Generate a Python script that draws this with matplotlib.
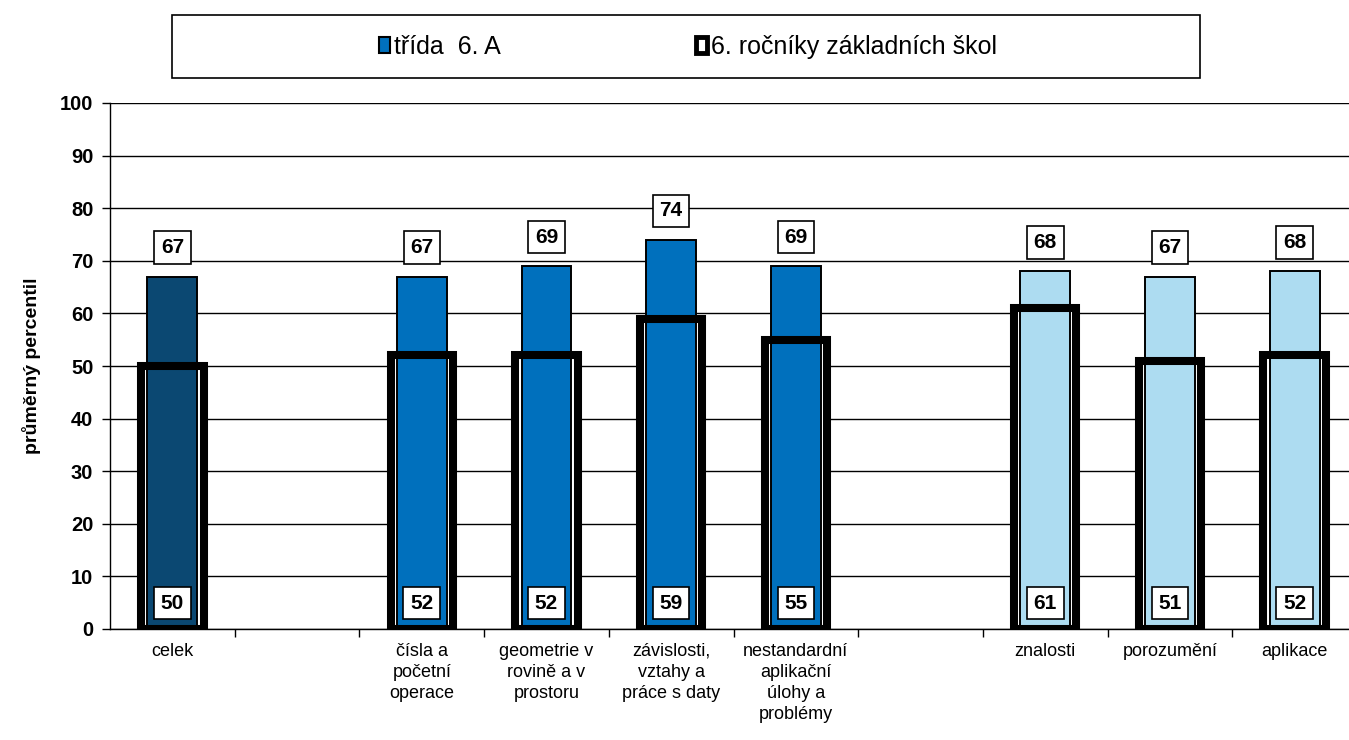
import numpy as np
import matplotlib
matplotlib.use("Agg")
import matplotlib.pyplot as plt
from matplotlib.patches import Patch, Rectangle

plt.rcParams['font.family'] = ['Liberation Sans', 'DejaVu Sans']

# Data
categories = ["celek", "", "čísla a\npočetní\noperace", "geometrie v\nrovině a v\nprostoru",
              "závislosti,\nvztahy a\npráce s daty", "nestandardní\naplikační\núlohy a\nproblémy",
              "", "znalosti", "porozumění", "aplikace"]
class_vals = [67, np.nan, 67, 69, 74, 69, np.nan, 68, 67, 68]
school_vals = [50, np.nan, 52, 52, 59, 55, np.nan, 61, 51, 52]
bar_colors = ["#0B4872", "white", "#0070BD", "#0070BD", "#0070BD", "#0070BD",
              "white", "#ADDCF1", "#ADDCF1", "#ADDCF1"]
series_names = ["třída  6. A", "6. ročníky základních škol"]

fig = plt.figure(figsize=(13.49, 7.40), dpi=100)
ax = fig.add_axes([110 / 1349, 1 - 629 / 740, 1247 / 1349, 526 / 740])

x = np.arange(len(categories))

# school outline: white fill behind, thick edge in front
ax.bar(x, school_vals, width=0.5, color="white", edgecolor="none", zorder=2)
ax.bar(x, class_vals, width=0.4, color=bar_colors, edgecolor="black", linewidth=1.4, zorder=3)
ax.bar(x, school_vals, width=0.5, fill=False, edgecolor="black", linewidth=5.8, zorder=4)

box = dict(boxstyle="square,pad=0.32", facecolor="white", edgecolor="black", linewidth=1.2)
for xi, cv, sv in zip(x, class_vals, school_vals):
    if np.isnan(cv):
        continue
    ax.text(xi, cv + 5.5, f"{cv:.0f}", ha="center", va="center", fontsize=15,
            fontweight="bold", bbox=box, zorder=5)
    ax.text(xi, 4.9, f"{sv:.0f}", ha="center", va="center", fontsize=15,
            fontweight="bold", bbox=box, zorder=5)

ax.set_xlim(-0.5, 9.5)
ax.set_ylim(0, 100)
ax.set_yticks(np.arange(0, 101, 10))
ax.yaxis.grid(True, color="black", linewidth=1, zorder=0)
ax.set_axisbelow(True)
ax.tick_params(axis="y", labelsize=14.5, length=6, width=1, pad=6)
for lbl in ax.get_yticklabels():
    lbl.set_fontweight("bold")

ax.set_xticks(x)
ax.set_xticklabels(categories, fontsize=13, linespacing=1.3, va="top")
ax.tick_params(axis="x", length=0, pad=10)
ax.set_xticks(np.arange(0.5, 9.5, 1), minor=True)
ax.tick_params(axis="x", which="minor", length=6, width=1)

for side in ["top", "right"]:
    ax.spines[side].set_visible(False)
ax.spines["left"].set_linewidth(1)
ax.spines["bottom"].set_linewidth(1)

ax.set_ylabel("průměrný percentil", fontsize=14, fontweight="bold", labelpad=14)

# legend with a fixed wide frame
fig.patches.append(Rectangle((172 / 1349, 1 - 78 / 740), 1028 / 1349, 63 / 740,
                             transform=fig.transFigure, facecolor="white",
                             edgecolor="black", linewidth=1.2))
handles = [Patch(facecolor="#0070BD", edgecolor="black", linewidth=1.5),
           Patch(facecolor="white", edgecolor="black", linewidth=3.5)]
fig.legend(handles, series_names, loc="center", bbox_to_anchor=(688 / 1349, 1 - 47 / 740),
           ncol=2, frameon=False, fontsize=18, handlelength=0.45, handleheight=0.6,
           handletextpad=0.15, columnspacing=7.8)

fig.savefig("out.png", dpi=100)
